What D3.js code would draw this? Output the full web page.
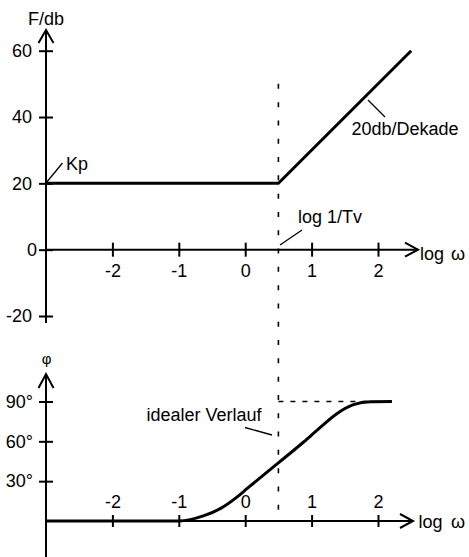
<!DOCTYPE html>
<html><head><meta charset="utf-8">
<script src="https://cdn.jsdelivr.net/npm/d3@7"></script>
<style>
body{margin:0;background:#fff}
svg{display:block}
text{font-family:"Liberation Sans",Arial,sans-serif;fill:#000}
</style>
</head><body><svg id="c" width="469" height="557"></svg>
<script>
// ---- data ----
const logTicks = [-2, -1, 0, 1, 2];
const magTicks = [-20, 0, 20, 40, 60];
const phaseTicks = [30, 60, 90];
const magLogW = [-3, 0.5, 2.5];
const magDb = [20, 20, 60];
const phaseLogW = [-3, -1, -0.62, -0.37, -0.12, 0.03, 0.38, 0.5, 0.88, 1.13, 1.38, 1.63, 1.89, 2.21];
const phaseDeg  = [0, 0, 4, 9.5, 18.2, 24.5, 38.9, 43.8, 59.5, 70.5, 80.8, 87.6, 89.8, 90];
const cornerLogW = 0.5;
const idealTopDb = 50;
const idealEndLogW = 2.1;

// ---- scales ----
const svg = d3.select("#c");
const x = d3.scaleLinear().domain([-3, 2]).range([46, 378]);
const yM = d3.scaleLinear().domain([-20, 60]).range([316, 50.7]);
const yP = d3.scaleLinear().domain([0, 90]).range([521, 401.5]);
const FS = 18;

function styleAxis(g, horiz, size) {
  g.select(".domain").remove();
  g.selectAll(".tick line").attr("stroke", "#000").attr("stroke-width", 2)
    .attr(horiz ? "y1" : "x1", -size).attr(horiz ? "y2" : "x2", size);
  g.selectAll(".tick text").attr("font-size", FS).attr("fill", "#000")
    .style("font-family", '"Liberation Sans",Arial,sans-serif');
}
function line(pts, w, dash) {
  const p = svg.append("path").attr("d", d3.line()(pts)).attr("fill", "none")
    .attr("stroke", "#000").attr("stroke-width", w);
  if (dash) p.attr("stroke-dasharray", dash);
  return p;
}

// ---- top chart: magnitude ----
const gYM = svg.append("g").attr("transform", "translate(46,0)")
  .call(d3.axisLeft(yM).tickValues(magTicks).tickSize(7).tickPadding(7).tickFormat(d => String(d)));
styleAxis(gYM, false, 7);
gYM.selectAll(".tick").filter(d => d === 0).select("text").attr("dx", 5);
const gXM = svg.append("g").attr("transform", `translate(0,${yM(0)})`)
  .call(d3.axisBottom(x).tickValues(logTicks).tickSize(7).tickPadding(8).tickFormat(d => String(d)));
styleAxis(gXM, true, 7);

line([[46, 323], [46, 30]], 2);
line([[38.5, 43], [46, 30], [53.5, 43]], 2);
line([[46, yM(0)], [418, yM(0)]], 2);
line([[405, yM(0) - 7], [418, yM(0)], [405, yM(0) + 7]], 2);

svg.append("text").attr("x", 46).attr("y", 25).attr("text-anchor", "middle").attr("font-size", FS).text("F/db");
const tl = svg.append("text").attr("x", 420).attr("y", 260).attr("font-size", FS).text("log");
tl.append("tspan").attr("x", 451).text("ω");

// corner dashed line
line([[x(cornerLogW), yM(idealTopDb)], [x(cornerLogW), yP(0)]], 1.6, "5 13.3");

// magnitude curve
line(magLogW.map((d, i) => [x(d), yM(magDb[i])]), 3);

// annotations
line([[46, 183], [62.5, 163]], 1.3);
svg.append("text").attr("x", 66).attr("y", 170).attr("font-size", FS).text("Kp");
line([[368, 100], [385, 117]], 1.3);
svg.append("text").attr("x", 351.5).attr("y", 135).attr("font-size", FS).text("20db/Dekade");
line([[280, 245], [302, 230]], 1.3);
svg.append("text").attr("x", 298).attr("y", 223).attr("font-size", FS).text("log 1/Tv");

// ---- bottom chart: phase ----
const gYP = svg.append("g").attr("transform", "translate(46,0)")
  .call(d3.axisLeft(yP).tickValues(phaseTicks).tickSize(7).tickPadding(6).tickFormat(d => d + "°"));
styleAxis(gYP, false, 7);
const gXP = svg.append("g").attr("transform", `translate(0,${yP(0)})`)
  .call(d3.axisTop(x).tickValues(logTicks).tickSize(6).tickPadding(7).tickFormat(d => String(d)));
styleAxis(gXP, true, 6);

line([[46, 557], [46, 374]], 2);
line([[38.5, 388], [46, 374], [53.5, 388]], 2);
line([[46, yP(0)], [413, yP(0)]], 2);
line([[400, yP(0) - 7], [413, yP(0)], [400, yP(0) + 7]], 2);

svg.append("text").attr("x", 46.5).attr("y", 364).attr("text-anchor", "middle").attr("font-size", 15).text("φ");
const bl = svg.append("text").attr("x", 418.5).attr("y", 528).attr("font-size", FS).text("log");
bl.append("tspan").attr("x", 451).text("ω");

// ideal dashed horizontal
line([[x(cornerLogW), yP(90)], [x(idealEndLogW), yP(90)]], 1.6, "5 7");

// phase curve
svg.append("path")
  .attr("d", d3.line().x(d => x(d)).y((d, i) => yP(phaseDeg[i])).curve(d3.curveMonotoneX)(phaseLogW))
  .attr("fill", "none").attr("stroke", "#000").attr("stroke-width", 3).attr("stroke-linejoin", "round");

line([[245, 427.5], [272, 435]], 1.3);
svg.append("text").attr("x", 146.5).attr("y", 421).attr("font-size", FS).text("idealer Verlauf");
</script>
</body></html>
